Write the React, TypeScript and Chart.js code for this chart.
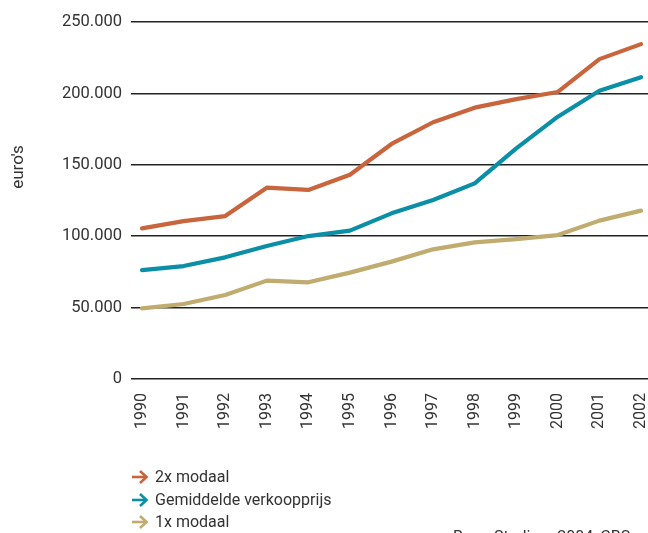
import React, { useEffect, useRef } from "react";
import { Chart, registerables } from "chart.js";

Chart.register(...registerables);

const years = [1990, 1991, 1992, 1993, 1994, 1995, 1996, 1997, 1998, 1999, 2000, 2001, 2002];
const tweeModaal = [105500, 110600, 114100, 134000, 132400, 143000, 164600, 179800, 190000, 196000, 201000, 224000, 234500];
const gemiddeldePrijs = [76300, 79100, 85200, 93100, 100100, 103900, 116000, 125400, 137000, 161500, 183700, 201900, 211300];
const eenModaal = [49500, 52500, 58800, 68900, 67700, 74500, 82200, 90800, 95700, 98000, 100800, 110900, 117900];
const seriesLabels = ["2x modaal", "Gemiddelde verkoopprijs", "1x modaal"];
const seriesColors = ["#C9653D", "#0A8FA6", "#C1AC6F"];
const yTicks = [0, 50000, 100000, 150000, 200000, 250000];
const yTitle = "euro's";
const sourceText = "Bron: Stadium 2004, CBS";

const FONT = "Roboto, 'Noto Sans', sans-serif";
const TEXT_COLOR = "#333333";

function fmt(v: number): string {
  return String(v).replace(/\B(?=(\d{3})+(?!\d))/g, ".");
}

const decorPlugin = {
  id: "decor",
  afterDraw(chart: any) {
    const ctx = chart.ctx as CanvasRenderingContext2D;
    ctx.save();
    // y title
    ctx.save();
    ctx.translate(19, 167);
    ctx.rotate(-Math.PI / 2);
    ctx.fillStyle = TEXT_COLOR;
    ctx.font = `17px ${FONT}`;
    ctx.textAlign = "center";
    ctx.textBaseline = "middle";
    ctx.fillText(yTitle, 0, 0);
    ctx.restore();

    // legend
    const rows = [477, 500, 522];
    seriesLabels.forEach((label, i) => {
      const y = rows[i];
      ctx.strokeStyle = seriesColors[i];
      ctx.lineWidth = 2.6;
      ctx.lineCap = "butt";
      ctx.lineJoin = "miter";
      ctx.beginPath();
      ctx.moveTo(132, y);
      ctx.lineTo(146, y);
      ctx.stroke();
      ctx.beginPath();
      ctx.moveTo(140, y - 6);
      ctx.lineTo(146.5, y);
      ctx.lineTo(140, y + 6);
      ctx.stroke();
      ctx.fillStyle = TEXT_COLOR;
      ctx.font = `16px ${FONT}`;
      ctx.textAlign = "left";
      ctx.textBaseline = "middle";
      ctx.fillText(label, 155, y + 1);
    });

    // source (cut off at bottom)
    ctx.fillStyle = TEXT_COLOR;
    ctx.font = `16px ${FONT}`;
    ctx.textAlign = "left";
    ctx.textBaseline = "top";
    ctx.fillText(sourceText, 453, 530);
    ctx.restore();
  },
};

export default function App() {
  const ref = useRef<HTMLCanvasElement | null>(null);
  useEffect(() => {
    if (!ref.current) return;
    const series = [tweeModaal, gemiddeldePrijs, eenModaal];
    const chart = new Chart(ref.current, {
      type: "line",
      data: {
        datasets: series.map((vals, i) => ({
          label: seriesLabels[i],
          data: vals.map((v, j) => ({ x: years[j], y: v })),
          borderColor: seriesColors[i],
          backgroundColor: seriesColors[i],
          borderWidth: 4.2,
          pointRadius: 0,
          borderCapStyle: "round" as const,
          borderJoinStyle: "round" as const,
          tension: 0,
        })),
      },
      plugins: [decorPlugin],
      options: {
        animation: false,
        responsive: false,
        maintainAspectRatio: false,
        layout: { padding: { top: 22, left: 0, right: 0, bottom: 0 } },
        plugins: {
          legend: { display: false },
          tooltip: { enabled: false },
          title: { display: false },
        },
        scales: {
          x: {
            type: "linear",
            min: 1989.735,
            max: 2002.168,
            grid: { display: false, drawTicks: false },
            border: { display: false },
            ticks: {
              stepSize: 1,
              includeBounds: false,
              autoSkip: false,
              minRotation: 90,
              maxRotation: 90,
              padding: 14,
              color: TEXT_COLOR,
              font: { family: FONT, size: 16 },
              callback: (v: any) => String(v),
            },
            afterFit: (scale: any) => {
              scale.height = 154;
              scale.paddingLeft = 0;
              scale.paddingRight = 0;
            },
          },
          y: {
            min: 0,
            max: 250000,
            grid: { color: "#222222", lineWidth: 1.6, drawTicks: false },
            border: { display: false },
            afterBuildTicks: (scale: any) => {
              scale.ticks = yTicks.map((v) => ({ value: v }));
            },
            ticks: {
              padding: 9,
              color: TEXT_COLOR,
              font: { family: FONT, size: 16.5 },
              callback: (v: any) => fmt(Number(v)),
            },
            afterFit: (scale: any) => {
              scale.width = 131;
              scale.paddingTop = 0;
              scale.paddingBottom = 0;
            },
          },
        },
      },
    });
    return () => chart.destroy();
  }, []);
  return (
    <div style={{ position: "fixed", left: 0, top: 0, width: 648, height: 533, background: "#fff" }}>
      <canvas ref={ref} width={648} height={533} style={{ width: 648, height: 533, display: "block" }} />
    </div>
  );
}
